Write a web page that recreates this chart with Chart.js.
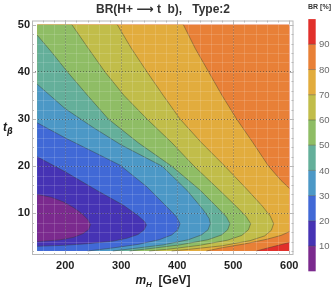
<!DOCTYPE html>
<html>
<head>
<meta charset="utf-8">
<script src="https://cdn.jsdelivr.net/npm/chart.js@4.4.1/dist/chart.umd.min.js"></script>
<style>
html, body { margin: 0; padding: 0; background: #ffffff; }
</style>
</head>
<body>
<canvas id="graficoBR" width="332" height="289"></canvas>
<script>
// plot range (mH in GeV, tan beta)
const limitesMH = [150, 600];
const limitesTb = [2, 50];

// BR levels (%) and the colour of the band just below each level
const niveis = [10, 20, 30, 40, 50, 60, 70, 80, 90, 100];
const cores = ['#7b2a8e', '#4633b4', '#4169d6', '#4c98c6', '#64af9a',
               '#8fbd65', '#c1bd4a', '#e2ac3d', '#e88037', '#e1302b'];

const ticksX = [200, 300, 400, 500, 600];
const ticksY = [10, 20, 30, 40, 50];
const ticksBarra = [10, 20, 30, 40, 50, 60, 70, 80, 90];

// contour lines [mH, tb]
const c10 = [[150, 14.0], [175, 13.4], [197, 12.4], [215, 11.2], [230, 9.9], [240, 8.7], [245, 7.6],
             [242, 6.6], [232, 5.7], [215, 4.9], [190, 4.35], [150, 4.0]];
const c20 = [[150, 22.0], [200, 18.8], [256, 14.9], [304, 11.7], [330, 9.5], [342, 8.2], [345, 7.5],
             [341, 6.5], [330, 5.5], [310, 4.7], [286, 4.1], [240, 3.55], [197, 3.2], [150, 3.0]];
const c30 = [[150, 29.2], [200, 26.0], [256, 22.7], [298, 20.2], [346, 15.6], [382, 11.3], [399, 9.2],
             [405, 7.8], [401, 6.5], [390, 5.4], [368, 4.4], [330, 3.4], [285, 2.65], [240, 2.0]];
const c40 = [[150, 37.4], [200, 32.2], [250, 28.2], [300, 24.5], [373, 20.0], [418, 14.8], [446, 10.8],
             [457, 8.9], [459, 7.8], [455, 6.5], [443, 5.4], [420, 4.4], [375, 3.3], [320, 2.5], [285, 2.0]];
const c50 = [[150, 47.8], [175, 44.3], [204, 40.0], [240, 35.0], [277, 30.0], [330, 25.0], [390, 20.0],
             [440, 15.0], [472, 11.2], [488, 9.2], [494, 7.8], [490, 6.5], [479, 5.4], [455, 4.4],
             [405, 3.3], [350, 2.5], [315, 2.0]];
const c60 = [[212, 50.0], [240, 45.2], [271, 40.0], [305, 35.0], [346, 30.0], [390, 25.0], [430, 20.0],
             [470, 15.5], [505, 11.5], [523, 9.3], [531, 7.8], [527, 6.5], [515, 5.3], [490, 4.3],
             [440, 3.2], [385, 2.4], [350, 2.0]];
const c70 = [[293, 50.0], [318, 45.0], [346, 40.0], [375, 35.0], [405, 30.0], [443, 25.0], [485, 20.0],
             [525, 15.0], [552, 11.5], [566, 9.4], [572, 7.8], [568, 6.4], [556, 5.2], [530, 4.2],
             [480, 3.1], [425, 2.4], [390, 2.0]];
const c80sup = [[411, 50.0], [432, 45.0], [456, 40.0], [480, 35.0], [506, 30.0], [535, 25.0], [563, 20.0],
                [585, 17.0], [600, 15.3]];
const c80inf = [[600, 6.1], [585, 5.3], [560, 4.5], [520, 3.5], [480, 2.7], [452, 2.0]];
const c90 = [[600, 3.8], [580, 3.2], [560, 2.6], [541, 2.0]];

const [x0, x1] = limitesMH;
const [y0, y1] = limitesTb;

// region BR < nivel, closed along the plot edges
const regioes = [
    c10,
    c20,
    [...c30, [x0, y0]],
    [...c40, [x0, y0]],
    [...c50, [x0, y0]],
    [[x0, y1], ...c60, [x0, y0]],
    [[x0, y1], ...c70, [x0, y0]],
    [[x0, y1], ...c80sup, ...c80inf, [x0, y0]],
    [[x0, y1], [x1, y1], ...c90, [x0, y0]],
    [[x0, y1], [x1, y1], [x1, y0], [x0, y0]]
];

const paraXY = pts => pts.map(p => ({ x: p[0], y: p[1] }));

const datasets = regioes.map((pts, i) => ({
    label: 'BR < ' + niveis[i],
    data: paraXY(pts),
    backgroundColor: cores[i],
    borderColor: 'transparent',
    borderWidth: 0,
    pointRadius: 0,
    fill: 'shape',
    order: i + 1
}));

[c10, c20, c30, c40, c50, c60, c70, c80sup, c80inf, c90].forEach(c => {
    datasets.push({
        data: paraXY(c),
        borderColor: 'rgba(60,60,50,0.55)',
        borderWidth: 0.8,
        pointRadius: 0,
        fill: false,
        order: 0
    });
});

const corTexto = '#1e1e1e';
const corMoldura = '#b8b8b8';
const corGrelha = 'rgba(60,60,60,0.75)';

const extras = {
    id: 'extras',
    afterDatasetsDraw(chart) {
        // faint light mesh over the coloured area
        const c = chart.ctx;
        const sx = chart.scales.x;
        const sy = chart.scales.y;
        const l = sx.getPixelForValue(x0), r = sx.getPixelForValue(x1);
        const t = sy.getPixelForValue(y1), b = sy.getPixelForValue(y0);
        c.save();
        c.strokeStyle = 'rgba(255,255,255,0.14)';
        c.lineWidth = 1;
        c.beginPath();
        for (let v = 160; v < x1; v += 20) {
            const px = Math.round(sx.getPixelForValue(v)) + 0.5;
            c.moveTo(px, t); c.lineTo(px, b);
        }
        for (let v = 4; v < y1; v += 2) {
            const py = Math.round(sy.getPixelForValue(v)) + 0.5;
            c.moveTo(l, py); c.lineTo(r, py);
        }
        c.stroke();
        c.restore();
    },
    afterDraw(chart) {
        const c = chart.ctx;
        const a = chart.chartArea;
        const sx = chart.scales.x;
        const sy = chart.scales.y;
        c.save();

        // frame with inward ticks
        c.strokeStyle = corMoldura;
        c.lineWidth = 1;
        c.strokeRect(a.left + 0.5, a.top + 0.5, a.right - a.left - 1, a.bottom - a.top - 1);
        c.beginPath();
        for (let v = 160; v <= 600; v += 20) {
            const px = Math.round(sx.getPixelForValue(v)) + 0.5;
            const len = v % 100 === 0 ? 4 : 2;
            c.moveTo(px, a.bottom); c.lineTo(px, a.bottom - len);
            c.moveTo(px, a.top); c.lineTo(px, a.top + len);
        }
        for (let v = 2; v <= 50; v += 2) {
            const py = Math.round(sy.getPixelForValue(v)) + 0.5;
            const len = v % 10 === 0 ? 4 : 2;
            c.moveTo(a.left, py); c.lineTo(a.left + len, py);
            c.moveTo(a.right, py); c.lineTo(a.right - len, py);
        }
        c.stroke();

        // title
        c.fillStyle = '#333333';
        c.font = 'bold 12px "Liberation Sans", "DejaVu Sans"';
        c.textAlign = 'center';
        c.textBaseline = 'middle';
        c.fillText('BR(H+ \u27F6 t  b),   Type:2', 163, 10);

        // x axis title: m_H [GeV]
        c.fillStyle = corTexto;
        c.textAlign = 'left';
        c.textBaseline = 'alphabetic';
        const fM = 'italic bold 12px "Liberation Sans"';
        const fH = 'italic bold 8px "Liberation Sans"';
        const fG = 'bold 12px "Liberation Sans"';
        c.font = fM; const wM = c.measureText('m').width;
        c.font = fH; const wH = c.measureText('H').width;
        c.font = fG; const wG = c.measureText('  [GeV]').width;
        let xt = 163 - (wM + wH + wG) / 2;
        c.font = fM; c.fillText('m', xt, 284); xt += wM;
        c.font = fH; c.fillText('H', xt, 287); xt += wH;
        c.font = fG; c.fillText('  [GeV]', xt, 284);

        // y axis title: t_beta
        c.font = 'italic bold 12px "Liberation Sans"';
        c.fillText('t', 3, 131);
        c.font = 'italic bold 8px "DejaVu Sans"';
        c.fillText('\u03B2', 7, 134);

        // colour bar
        const bx = 308.3, bw = 7.4, topo = 19.1, base = 271.3;
        const yBar = v => base - v / 100 * (base - topo);
        cores.forEach((cor, i) => {
            const ya = yBar(niveis[i]);
            const yb = yBar(i === 0 ? 0 : niveis[i - 1]);
            c.fillStyle = cor;
            c.fillRect(bx, ya, bw, yb - ya);
        });
        c.strokeStyle = 'rgba(70,70,60,0.55)';
        c.lineWidth = 0.8;
        c.beginPath();
        ticksBarra.forEach(v => {
            const y = yBar(v);
            c.moveTo(bx, y); c.lineTo(bx + bw, y);
        });
        c.stroke();
        c.fillStyle = '#6a6a6a';
        c.font = '9.5px "Liberation Sans"';
        c.textBaseline = 'middle';
        ticksBarra.forEach(v => c.fillText(String(v), 319, yBar(v) + 0.5));
        c.fillStyle = '#333333';
        c.font = 'bold 7px "Liberation Sans"';
        c.textAlign = 'center';
        c.fillText('BR [%]', 319.5, 7);

        c.restore();
    }
};

new Chart(document.getElementById('graficoBR').getContext('2d'), {
    type: 'line',
    data: { datasets: datasets },
    options: {
        responsive: false,
        animation: false,
        events: [],
        layout: {
            padding: { left: 0, right: 38.5, top: 20.5, bottom: 0 }
        },
        scales: {
            x: {
                type: 'linear',
                min: 140.7,
                max: 607.5,
                afterBuildTicks: axis => { axis.ticks = ticksX.map(v => ({ value: v })); },
                afterFit: scale => { scale.height = 34; },
                ticks: {
                    color: corTexto,
                    padding: 4,
                    maxRotation: 0,
                    font: { family: 'Liberation Sans', size: 11, weight: 'bold' }
                },
                grid: {
                    z: 1,
                    drawTicks: false,
                    lineWidth: 0.8,
                    color: ctx => (ctx.tick && ctx.tick.value === 600) ? 'transparent' : corGrelha
                },
                border: { display: false, dash: [1, 2] }
            },
            y: {
                type: 'linear',
                min: 1.15,
                max: 50.91,
                afterBuildTicks: axis => { axis.ticks = ticksY.map(v => ({ value: v })); },
                afterFit: scale => { scale.width = 32; },
                ticks: {
                    color: corTexto,
                    padding: 2,
                    font: { family: 'Liberation Sans', size: 11, weight: 'bold' }
                },
                grid: {
                    z: 1,
                    drawTicks: false,
                    lineWidth: 0.8,
                    color: ctx => (ctx.tick && ctx.tick.value === 50) ? 'transparent' : corGrelha
                },
                border: { display: false, dash: [1, 2] }
            }
        },
        plugins: {
            legend: { display: false },
            tooltip: { enabled: false }
        }
    },
    plugins: [extras]
});
</script>
</body>
</html>
